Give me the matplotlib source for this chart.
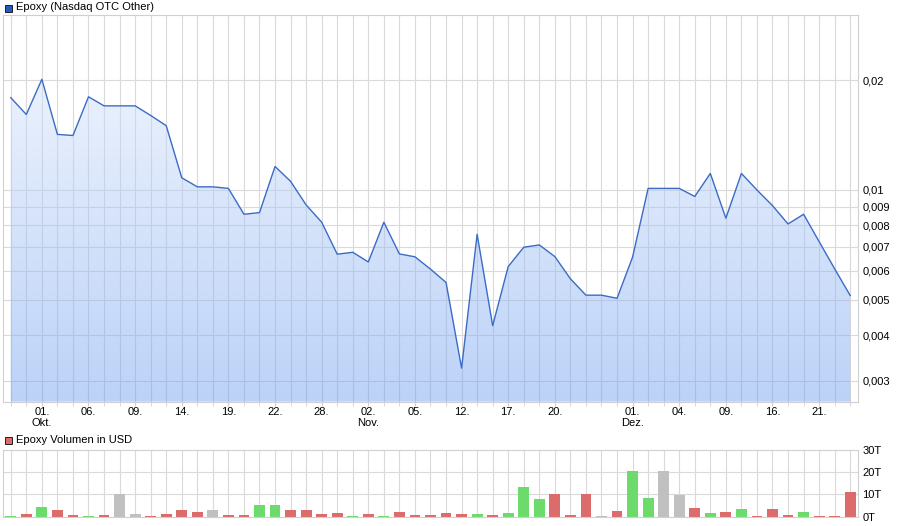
import numpy as np
import matplotlib
matplotlib.use('Agg')
import matplotlib.pyplot as plt

# Kurs in USD, ein Punkt je Handelstag (Ende Sep. bis Ende Dez.)
kurs = [0.0179, 0.0161, 0.0201, 0.0142, 0.0141, 0.0180, 0.0170, 0.0170, 0.0170, 0.0160,
        0.0150, 0.0108, 0.0102, 0.0102, 0.0101, 0.00858, 0.00867, 0.0116, 0.01056, 0.0091,
        0.00816, 0.00667, 0.00675, 0.00635, 0.00816, 0.00668, 0.00656, 0.00607, 0.00558, 0.00325,
        0.00756, 0.00425, 0.00617, 0.00697, 0.00707, 0.00657, 0.00571, 0.00515, 0.00515, 0.00505,
        0.00655, 0.0101, 0.0101, 0.0101, 0.0096, 0.0111, 0.00837, 0.0111, 0.0100, 0.00906,
        0.00807, 0.00858, 0.00722, 0.00608, 0.00514]

# Volumen in Tausend USD
volumen = [0.3, 1.2, 4.3, 3.0, 0.75, 0.3, 0.75, 10.1, 1.2, 0.3,
           1.2, 3.0, 2.1, 3.0, 0.75, 0.75, 5.2, 5.2, 3.0, 3.0,
           1.2, 1.6, 0.3, 1.2, 0.3, 2.1, 0.75, 0.75, 1.6, 1.2,
           1.2, 0.75, 1.6, 13.3, 7.9, 10.1, 0.75, 10.1, 0.3, 2.5,
           20.4, 8.4, 20.4, 9.7, 3.9, 1.6, 2.1, 3.4, 0.3, 3.4,
           0.75, 2.1, 0.3, 0.3, 11.0]

# u = steigend (gruen), d = fallend (rot), n = unveraendert (grau)
richtung = ['u', 'd', 'u', 'd', 'd', 'u', 'd', 'n', 'n', 'd',
            'd', 'd', 'd', 'n', 'd', 'd', 'u', 'u', 'd', 'd',
            'd', 'd', 'u', 'd', 'u', 'd', 'd', 'd', 'd', 'd',
            'u', 'd', 'u', 'u', 'u', 'd', 'd', 'd', 'n', 'd',
            'u', 'u', 'n', 'n', 'd', 'u', 'd', 'u', 'd', 'd',
            'd', 'u', 'd', 'd', 'd']

x_tick_pos = [2, 5, 8, 11, 14, 17, 20, 23, 26, 29, 32, 35, 40, 43, 46, 49, 52]
x_tick_lab = ['01.\nOkt.', '06.', '09.', '14.', '19.', '22.', '28.', '02.\nNov.', '05.',
              '12.', '17.', '20.', '01.\nDez.', '04.', '09.', '16.', '21.']

y_ticks = [0.003, 0.004, 0.005, 0.006, 0.007, 0.008, 0.009, 0.01, 0.02]
y_tick_lab = ['0,003', '0,004', '0,005', '0,006', '0,007', '0,008', '0,009', '0,01', '0,02']

vol_ticks = [0, 10, 20, 30]
vol_tick_lab = ['0T', '10T', '20T', '30T']

farben = {'u': '#6cdb6c', 'd': '#dc6b6b', 'n': '#c0c0c0'}

plt.rcParams['font.family'] = ['Liberation Sans', 'DejaVu Sans']
plt.rcParams['font.size'] = 8

x = np.arange(len(kurs))
ymin, ymax = 0.00263, 0.0301
gitter = '#dadada'
rahmen = '#d0d0d0'

fig = plt.figure(figsize=(9, 5.26), dpi=100)
ax = fig.add_axes([3 / 900, 1 - 401.7 / 526, 855 / 900, (401.7 - 15.3) / 526])
ax2 = fig.add_axes([3 / 900, 1 - 516.7 / 526, 855 / 900, (516.7 - 449.5) / 526])

# Kurschart
ax.set_yscale('log')
ax.set_xlim(-0.5, len(kurs) - 0.5)
ax.set_ylim(ymin, ymax)

for xi in x:
    ax.axvline(xi, color=gitter, lw=0.8, zorder=1)
for yt in y_ticks:
    ax.axhline(yt, color=gitter, lw=0.8, zorder=1)

# Flaeche mit Farbverlauf (halbtransparent, Gitter scheint durch)
alpha = 0.46
oben = np.array([0.957, 0.973, 0.996])
unten = np.array([0.737, 0.824, 0.973])
t = np.linspace(0, 1, 256).reshape(-1, 1)
ziel = unten + (oben - unten) * t
farbe = (ziel - (1 - alpha)) / alpha
rgba = np.concatenate([farbe, np.full((256, 1), alpha)], axis=1).reshape(256, 1, 4)
poly = ax.fill_between(x, kurs, ymin, color='none', lw=0)
img = ax.imshow(np.clip(rgba, 0, 1), aspect='auto', extent=[0, 1, 0, 1],
                transform=ax.transAxes, origin='lower', zorder=2)
img.set_clip_path(poly.get_paths()[0], transform=ax.transData)
ax.plot(x, kurs, color='#3a6cc6', lw=1.0, zorder=3)

ax.yaxis.tick_right()
ax.set_yticks(y_ticks)
ax.set_yticklabels(y_tick_lab)
ax.yaxis.set_minor_locator(matplotlib.ticker.NullLocator())
ax.tick_params(axis='y', length=0, pad=3)
ax.set_xticks(x_tick_pos)
ax.set_xticklabels(x_tick_lab, linespacing=1.05)
ax.set_xticks(x, minor=True)
ax.tick_params(axis='x', which='both', length=3, color=rahmen, pad=1)
for s in ax.spines.values():
    s.set_color(rahmen)

# Volumenchart
ax2.set_xlim(-0.5, len(kurs) - 0.5)
ax2.set_ylim(0, 30)
for xi in x:
    ax2.axvline(xi, color=gitter, lw=0.8, zorder=1)
for yt in vol_ticks[1:-1]:
    ax2.axhline(yt, color=gitter, lw=0.8, zorder=1)
ax2.bar(x, volumen, width=0.7, color=[farben[r] for r in richtung], zorder=2)
ax2.yaxis.tick_right()
ax2.set_yticks(vol_ticks)
ax2.set_yticklabels(vol_tick_lab)
ax2.tick_params(axis='y', length=0, pad=3)
ax2.set_xticks([])
for s in ax2.spines.values():
    s.set_color(rahmen)

# Legenden
fig.patches.append(plt.Rectangle((5 / 900, 1 - 12 / 526), 7 / 900, 7 / 526,
                                 transform=fig.transFigure, facecolor='#1f5bbf',
                                 edgecolor='#202020', lw=0.7))
fig.text(16 / 900, 1 - 7 / 526, 'Epoxy (Nasdaq OTC Other)', va='center', ha='left')
fig.patches.append(plt.Rectangle((5 / 900, 1 - 444 / 526), 7 / 900, 7 / 526,
                                 transform=fig.transFigure, facecolor='#dc6b6b',
                                 edgecolor='#202020', lw=0.7))
fig.text(16 / 900, 1 - 440 / 526, 'Epoxy Volumen in USD', va='center', ha='left')

fig.savefig('out.png', dpi=100)
